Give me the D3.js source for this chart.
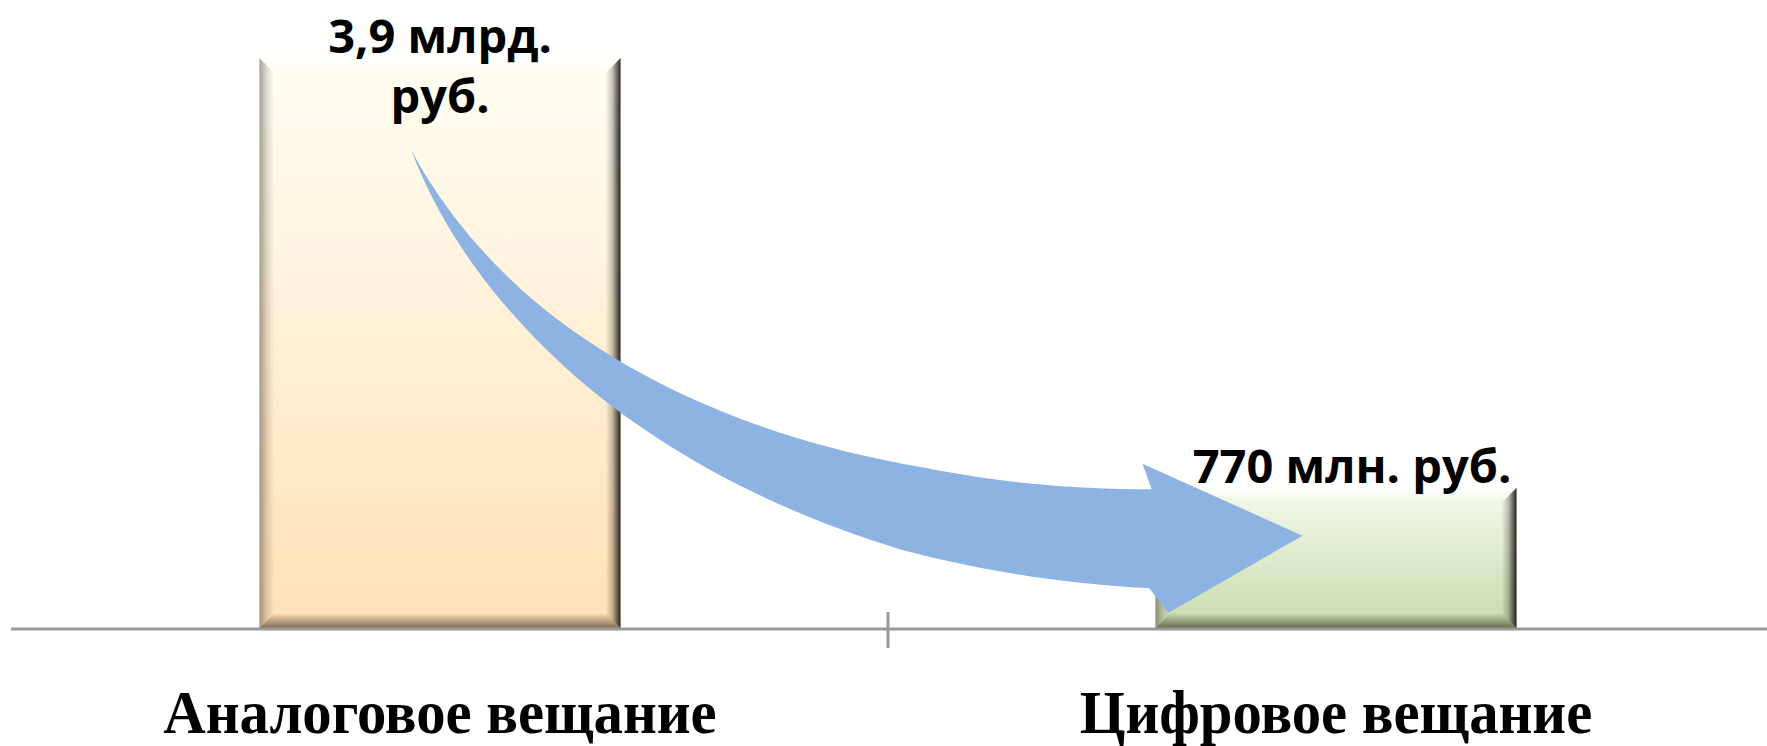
<!DOCTYPE html>
<html>
<head>
<meta charset="utf-8">
<script src="https://cdn.jsdelivr.net/npm/d3@7"></script>
<style>
  body { margin: 0; background: #fff; }
</style>
</head>
<body>
<div class="canvas"></div>
<script>
// categories and bar values (bar heights, млрд. руб.)
const categories = ['Аналоговое вещание', 'Цифровое вещание'];
const values = [3.9, 0.96];
const valueLabels = [['3,9 млрд.', 'руб.'], ['770 млн. руб.']];

const width = 1767, height = 746;
const baseY = 628;

const svg = d3.select('.canvas')
    .append('svg')
    .attr('width', width)
    .attr('height', height)

// scales
const x = d3.scaleBand()
    .domain(categories)
    .range([-8, 1784])
    .paddingInner(0.597)
    .paddingOuter(0.2985)

const y = d3.scaleLinear()
    .domain([0, 3.9])
    .range([baseY, 58])

// gradients
const defs = svg.append('defs')
const fills = [['#fffef4', '#ffe1b6'], ['#f3f9ec', '#c8dbac']];

fills.forEach((c, i) => {
    const g = defs.append('linearGradient')
        .attr('id', 'bar' + i)
        .attr('x1', 0).attr('y1', 0).attr('x2', 0).attr('y2', 1)
    g.append('stop').attr('offset', 0).attr('stop-color', c[0])
    g.append('stop').attr('offset', 1).attr('stop-color', c[1])
})

// bevel gradients: [id, x1, y1, x2, y2, colour, stops (offset, opacity)]
const bevels = [
    ['bvTop', 0, 1, 0, 0, '#ffffff', [[0, 0], [1, 0.8]]],
    ['bvLeft', 1, 0, 0, 0, '#2a2219', [[0, 0], [0.5, 0.15], [1, 0.42]]],
    ['bvRight', 0, 0, 1, 0, '#1e1a16', [[0, 0], [0.45, 0.25], [0.8, 0.7], [1, 0.95]]],
    ['bvBottom', 0, 0, 0, 1, '#2a2219', [[0, 0], [0.5, 0.3], [1, 0.6]]]
];
bevels.forEach(b => {
    const g = defs.append('linearGradient')
        .attr('id', b[0])
        .attr('x1', b[1]).attr('y1', b[2]).attr('x2', b[3]).attr('y2', b[4])
    b[6].forEach(s => g.append('stop')
        .attr('offset', s[0])
        .attr('stop-color', b[5])
        .attr('stop-opacity', s[1]))
})

// bars
const bw = x.bandwidth();
const bv = 15;

const bars = svg.selectAll('g.bar')
    .data(values)
    .enter()
    .append('g')
    .attr('class', 'bar')

bars.append('rect')
    .attr('x', (d, i) => x(categories[i]))
    .attr('y', d => y(d))
    .attr('width', bw)
    .attr('height', d => baseY - y(d))
    .attr('fill', (d, i) => `url(#bar${i})`)

bars.each(function(d, i) {
    const x0 = x(categories[i]), x1 = x0 + bw, y0 = y(d), y1 = baseY;
    const g = d3.select(this);
    const sides = [
        ['bvTop', [[x0, y0], [x1, y0], [x1 - bv, y0 + bv], [x0 + bv, y0 + bv]]],
        ['bvLeft', [[x0, y0], [x0 + bv, y0 + bv], [x0 + bv, y1 - bv], [x0, y1]]],
        ['bvBottom', [[x0, y1], [x0 + bv, y1 - bv], [x1 - bv, y1 - bv], [x1, y1]]],
        ['bvRight', [[x1, y0], [x1, y1], [x1 - bv, y1 - bv], [x1 - bv, y0 + bv]]]
    ];
    sides.forEach(s => {
        g.append('polygon')
            .attr('points', s[1].map(p => p.join(',')).join(' '))
            .attr('fill', `url(#${s[0]})`)
    })
})

// axis line and the tick between categories
svg.append('line')
    .attr('x1', 11).attr('x2', width)
    .attr('y1', baseY + 1).attr('y2', baseY + 1)
    .attr('stroke', '#999').attr('stroke-width', 3)

const mid = (x(categories[0]) + bw + x(categories[1])) / 2;
svg.append('line')
    .attr('x1', mid).attr('x2', mid)
    .attr('y1', baseY - 16).attr('y2', baseY + 20)
    .attr('stroke', '#999').attr('stroke-width', 3)

// category labels (a bit condensed, like the original serif)
svg.selectAll('text.cat')
    .data(categories)
    .enter()
    .append('text')
    .attr('class', 'cat')
    .attr('x', d => x(d) + bw / 2)
    .attr('y', 733)
    .attr('text-anchor', 'middle')
    .attr('font-family', '"Liberation Serif", "DejaVu Serif", serif')
    .attr('font-weight', 'bold')
    .attr('font-size', 62)
    .text(d => d)
    .each(function() {
        const len = this.getComputedTextLength();
        d3.select(this)
            .attr('textLength', len * 0.947)
            .attr('lengthAdjust', 'spacingAndGlyphs')
    })

// curved arrow from the first bar down to the second
const p0 = [x(categories[0]) + bw * 0.42, y(values[0]) + 92];
const tip = [x(categories[1]) + bw * 0.407, y(values[1]) + 48];
const p3 = [tip[0] - 152, tip[1] + 3];
const p1 = [p0[0] + 110, p0[1] + 240];
const p2 = [p3[0] - 330, p3[1] - 8];

const thick = d3.scaleLinear()
    .domain([0, 0.25, 0.5, 0.75, 1])
    .range([0, 25, 55, 85, 99])

const upper = [], lower = [];
d3.range(0, 61).forEach(k => {
    const t = k / 60, u = 1 - t;
    const px = u*u*u*p0[0] + 3*u*u*t*p1[0] + 3*u*t*t*p2[0] + t*t*t*p3[0];
    const py = u*u*u*p0[1] + 3*u*u*t*p1[1] + 3*u*t*t*p2[1] + t*t*t*p3[1];
    const dx = 3*(u*u*(p1[0]-p0[0]) + 2*u*t*(p2[0]-p1[0]) + t*t*(p3[0]-p2[0]));
    const dy = 3*(u*u*(p1[1]-p0[1]) + 2*u*t*(p2[1]-p1[1]) + t*t*(p3[1]-p2[1]));
    const len = Math.hypot(dx, dy);
    const nx = -dy / len, ny = dx / len;
    const w = thick(t) / 2;
    upper.push([px - nx * w, py - ny * w]);
    lower.push([px + nx * w, py + ny * w]);
})

const head = [
    [p3[0] - 8, p3[1] - 75],
    tip,
    [p3[0] + 18, p3[1] + 74]
];

const arrowPts = upper.concat(head, lower.reverse());
svg.append('path')
    .attr('d', d3.line()(arrowPts) + 'Z')
    .attr('fill', '#8db3e2')

// value labels
svg.selectAll('text.val')
    .data(values)
    .enter()
    .append('text')
    .attr('class', 'val')
    .attr('text-anchor', 'middle')
    .attr('font-family', '"Open Sans", "Noto Sans", sans-serif')
    .attr('font-weight', 'bold')
    .attr('font-size', 47)
    .attr('fill', '#000')
    .each(function(d, i) {
        const t = d3.select(this);
        const cx = x(categories[i]) + bw / 2 + (i === 1 ? 16 : 0);
        valueLabels[i].forEach((line, j) => {
            t.append('tspan')
                .attr('x', cx)
                .attr('y', y(d) - 5 + j * 60)
                .text(line)
        })
    })
</script>
</body>
</html>
